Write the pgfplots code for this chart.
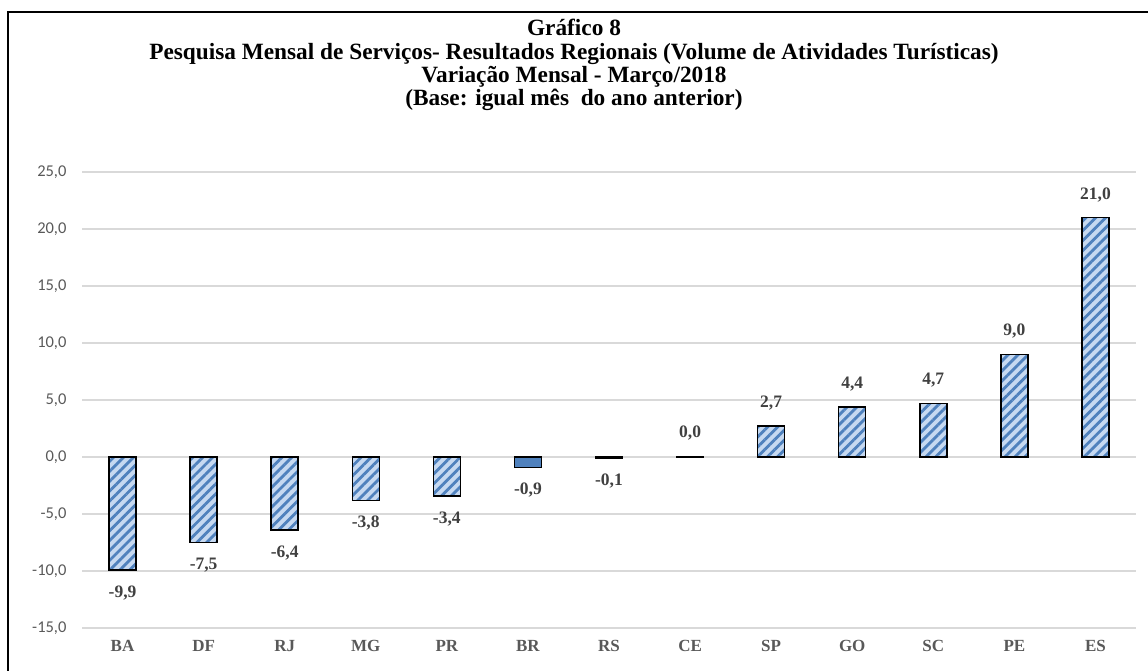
\documentclass[border=0pt]{standalone}
\usepackage{fontspec}
\setmainfont{Liberation Serif}
\newfontfamily\calfont{Carlito}
\usepackage{pgfplots}
\pgfplotsset{compat=1.18}
\usetikzlibrary{patterns.meta}
\definecolor{barlight}{HTML}{C6D9F1}
\definecolor{barstripe}{HTML}{4F81BD}
\definecolor{barsolid}{HTML}{4F81BD}
\definecolor{gridc}{HTML}{D9D9D9}
\definecolor{txt}{HTML}{404040}
\definecolor{ticktxt}{HTML}{595959}
\pgfplotstableread{
x y lab
0 -9.9 {-9,9}
1 -7.5 {-7,5}
2 -6.4 {-6,4}
3 -3.8 {-3,8}
4 -3.4 {-3,4}
6 -0.1 {-0,1}
}\hatchedneg
\pgfplotstableread{
x y lab
7 0.05 {0,0}
8 2.7 {2,7}
9 4.4 {4,4}
10 4.7 {4,7}
11 9.0 {9,0}
12 21.0 {21,0}
}\hatchedpos
\pgfplotstableread{
x y lab
5 -0.9 {-0,9}
}\solid
\begin{document}
\begin{tikzpicture}
\useasboundingbox (0,0) rectangle (1148pt,670pt);
\draw[line width=2pt,black] (8pt,-10pt) -- (8pt,658pt) -- (1160pt,658pt);
\node[align=center,font=\bfseries\fontsize{23.3}{23.2}\selectfont,text=black] at (574pt,605pt)
{Gráfico 8\\Pesquisa Mensal de Serviços- Resultados Regionais (Volume de Atividades Turísticas)\\Variação Mensal - Março/2018\\(Base: igual mês\ \ do ano anterior)};
\begin{axis}[
  at={(82pt,42pt)}, anchor=south west,
  scale only axis, width=1054pt, height=456pt,
  xmin=-0.5, xmax=12.5, ymin=-15, ymax=25,
  ytick={-15,-10,...,25},
  xtick={0,...,12},
  xticklabels={BA,DF,RJ,MG,PR,BR,RS,CE,SP,GO,SC,PE,ES},
  yticklabels={-15{,}0,-10{,}0,-5{,}0,0{,}0,5{,}0,10{,}0,15{,}0,20{,}0,25{,}0},
  yticklabel style={font=\calfont\fontsize{16.5}{16.5}\selectfont, text=ticktxt, /pgf/number format/assume math mode=true},
  xticklabel style={font=\bfseries\fontsize{17}{17}\selectfont, text=ticktxt, anchor=north, text height=12pt, text depth=3pt},
  ytick style={draw=none}, xtick style={draw=none},
  ymajorgrids, grid style={gridc, line width=1.3pt},
  axis line style={draw=none},
  yticklabel style={xshift=-12pt},
  xticklabel style={yshift=-4pt},
  ybar, bar width=27pt,
  nodes near coords,
  point meta=explicit symbolic,
  every node near coord/.append style={font=\bfseries\fontsize{17.5}{17.5}\selectfont, text=txt, inner sep=2pt},
  clip=false,
]
\addplot[ybar, bar width=27pt, bar shift=0pt, draw=black, line width=1.5pt, fill=barlight,
  postaction={pattern={Lines[angle=45,distance=7pt,line width=2.8pt]}, pattern color=barstripe},
  every node near coord/.append style={anchor=north, yshift=-13pt}]
  table[x=x,y=y,meta=lab]{\hatchedneg};
\addplot[ybar, bar width=27pt, bar shift=0pt, draw=black, line width=1.5pt, fill=barlight,
  postaction={pattern={Lines[angle=45,distance=7pt,line width=2.8pt]}, pattern color=barstripe},
  every node near coord/.append style={anchor=south, yshift=13pt}]
  table[x=x,y=y,meta=lab]{\hatchedpos};
\addplot[ybar, bar width=27pt, bar shift=0pt, draw=black, line width=1.5pt, fill=barsolid,
  every node near coord/.append style={anchor=north, yshift=-13pt}]
  table[x=x,y=y,meta=lab]{\solid};
\end{axis}
\end{tikzpicture}
\end{document}
